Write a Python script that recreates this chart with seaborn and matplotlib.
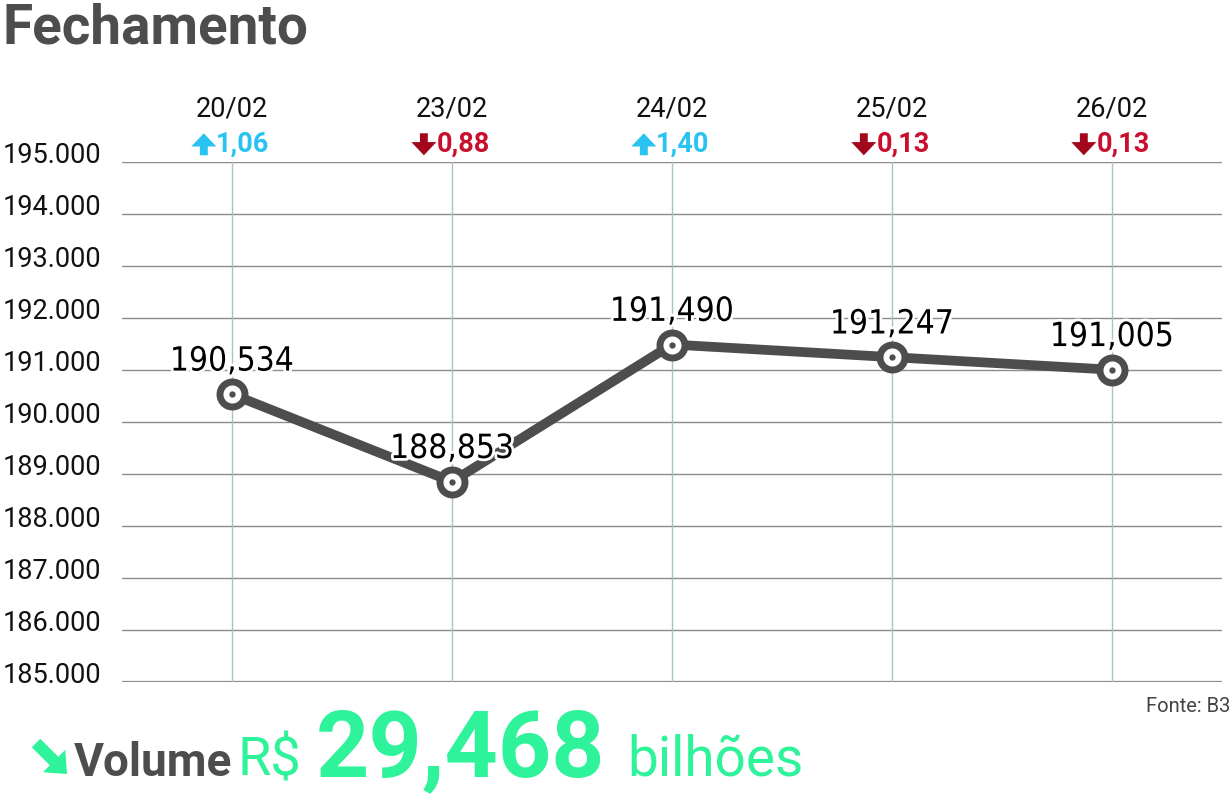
import numpy as np
import matplotlib.pyplot as plt
import matplotlib.patheffects as pe
from matplotlib import font_manager
from matplotlib.patches import FancyArrowPatch
from matplotlib.transforms import IdentityTransform
import pandas as pd
import seaborn as sns

datas = ['20/02', '23/02', '24/02', '25/02', '26/02']
fechamento = [190534, 188853, 191490, 191247, 191005]
rotulos = ['190,534', '188,853', '191,490', '191,247', '191,005']
variacao = ['1,06', '0,88', '1,40', '0,13', '0,13']
sobe = [True, False, True, False, False]
yticks = [185000, 186000, 187000, 188000, 189000, 190000, 191000, 192000, 193000, 194000, 195000]

cinza = '#4d4d4d'
azul = '#29c3f2'
vermelho = '#c8102e'
vermelho_seta = '#a3071c'
verde = '#2ff39a'

sns.set_style('white')
plt.rcParams['font.family'] = ['Roboto', 'DejaVu Sans']

# fonte estreita para os rotulos, se houver
fontes = font_manager.fontManager.ttflist
estreita = dict(family=['DejaVu Sans'], fontsize=18.5)
for f in fontes:
    if f.name in ('Roboto Condensed', 'Liberation Sans Narrow', 'DejaVu Sans Condensed', 'Open Sans Condensed'):
        estreita = dict(family=[f.name], fontsize=24)
        break
    if f.name in ('DejaVu Sans', 'Noto Sans', 'Roboto', 'Open Sans') and f.stretch == 'condensed':
        estreita = dict(family=[f.name], fontstretch='condensed', fontsize=24)
        break

df = pd.DataFrame({'x': np.arange(len(datas)), 'valor': fechamento})

fig = plt.figure(figsize=(12.32, 8.03), dpi=100)
ax = fig.add_axes([122 / 1232, 1 - 683 / 803, 1100 / 1232, 520 / 803])

ax.set_xlim(-0.5, len(datas) - 0.5)
ax.set_ylim(185000, 195000)

# grade
for y in yticks:
    ax.axhline(y, color='#8c8c8c', lw=1.0 if y != 185000 else 1.6, zorder=1)
for i in range(len(datas)):
    ax.axvline(i, color='#a9c4bd', lw=1.0, zorder=1)

sns.lineplot(data=df, x='x', y='valor', color=cinza, lw=7, ax=ax, zorder=3,
             marker='o', markersize=18, markerfacecolor='white', markeredgecolor=cinza,
             markeredgewidth=5)
ax.plot(df['x'], df['valor'], 'o', color=cinza, markersize=3.5, zorder=4)

for i, (v, r) in enumerate(zip(fechamento, rotulos)):
    ax.annotate(r, (i, v), xytext=(0, 12), textcoords='offset points', ha='center', va='bottom',
                color='black', zorder=5,
                path_effects=[pe.withStroke(linewidth=4, foreground='white')], **estreita)

ax.set_yticks(yticks)
ax.set_yticklabels([f'{y:,}'.replace(',', '.') for y in yticks], fontsize=19.5, color='#111111')
for lab in ax.get_yticklabels():
    lab.set_va('baseline')
ax.tick_params(axis='y', length=0, pad=15)
ax.set_xticks([])
ax.set_xlabel('')
ax.set_ylabel('')
sns.despine(ax=ax, left=True, bottom=True)

trans = ax.get_xaxis_transform()
nums = []
for i, (d, v, s) in enumerate(zip(datas, variacao, sobe)):
    ax.text(i, 1.104, d, transform=trans, ha='center', va='center', fontsize=19.5, color='#111111')
    num = ax.text(i, 1.036, v, transform=trans, ha='left', va='center',
                  fontsize=19.5, fontweight='bold', color=azul if s else vermelho)
    nums.append(num)

# setas de variacao (em pixels, dpi fixo)
fig.canvas.draw()
r = fig.canvas.get_renderer()
px = ax.transData.transform([(0, 0), (1, 0)])
escala = px[1, 0] - px[0, 0]
larg_seta, folga = 19, 3
for i, (num, s) in enumerate(zip(nums, sobe)):
    bb = num.get_window_extent(r)
    total = larg_seta + folga + bb.width
    num.set_x(i + (larg_seta + folga - total / 2) / escala)
    cx = px[0, 0] + i * escala - total / 2 + larg_seta / 2
    cy = (bb.y0 + bb.y1) / 2 - 1
    y0, y1 = (cy - 11, cy + 11) if s else (cy + 11, cy - 11)
    fig.patches.append(FancyArrowPatch((cx, y0), (cx, y1), transform=IdentityTransform(),
                                       arrowstyle='simple,head_width=0.95,head_length=0.5,tail_width=0.3',
                                       mutation_scale=19, color=azul if s else vermelho_seta, lw=0,
                                       shrinkA=0, shrinkB=0, figure=fig))

fig.text(2 / 1232, 1 - 28 / 803, 'Fechamento', fontsize=39.5, fontweight='bold', color=cinza,
         va='center', ha='left')
fig.text(1230 / 1232, 1 - 707 / 803, 'Fonte: B3', fontsize=14.5, color='#444444', ha='right', va='center')

yb = 1 - 776 / 803
fig.patches.append(FancyArrowPatch((36, 803 - 744), (67, 803 - 775), transform=IdentityTransform(),
                                   arrowstyle='simple,head_width=0.95,head_length=0.55,tail_width=0.36',
                                   mutation_scale=24, color=verde, lw=0, shrinkA=0, shrinkB=0, figure=fig))
fig.text(74 / 1232, yb, 'Volume', fontsize=33, fontweight='bold', color=cinza, ha='left', va='baseline')
fig.text(238 / 1232, yb, 'R$', fontsize=39, color=verde, ha='left', va='baseline')
fig.text(316 / 1232, yb, '29,468', fontsize=67, fontweight='bold', color=verde, ha='left', va='baseline')
fig.text(627 / 1232, yb, 'bilhões', fontsize=39.5, color=verde, ha='left', va='baseline')

fig.savefig('out.png', dpi=100, facecolor='white')
